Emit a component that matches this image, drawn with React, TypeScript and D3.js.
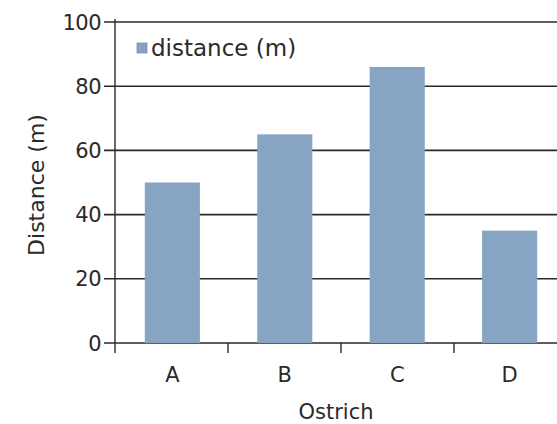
import * as d3 from "d3"

const categories = ["A", "B", "C", "D"]
const distances = [50, 65, 86, 35]
const yTicks = [0, 20, 40, 60, 80, 100]
const seriesName = "distance (m)"

const W = 557
const H = 424
const left = 115
const bandW = 113
const top = 22
const bottom = 343

export default function App() {
  const x = d3
    .scaleBand<string>()
    .domain(categories)
    .range([left, left + bandW * categories.length])
    .paddingInner(0.51)
    .paddingOuter(0.265)
  const y = d3.scaleLinear().domain([0, 100]).range([bottom, top])
  const font = "'DejaVu Sans', sans-serif"
  const ink = "#2a2a2a"

  const boundaries = categories.slice(1).map((_, i) => left + bandW * (i + 1))

  return (
    <div style={{ position: "fixed", left: 0, top: 0 }}>
      <svg width={W} height={H} style={{ display: "block", background: "#fff" }}>
        {/* gridlines */}
        {yTicks.map((t) => (
          <line
            key={t}
            x1={104}
            x2={W}
            y1={y(t)}
            y2={y(t)}
            stroke={ink}
            strokeWidth={1.6}
          />
        ))}
        {/* bars */}
        {categories.map((c, i) => (
          <rect
            key={c}
            x={x(c)}
            y={y(distances[i])}
            width={x.bandwidth()}
            height={y(0) - y(distances[i])}
            fill="#87a4c3"
          />
        ))}
        {/* y axis */}
        <line x1={left} x2={left} y1={top - 3} y2={bottom + 10} stroke={ink} strokeWidth={1.4} />
        {boundaries.map((b) => (
          <line key={b} x1={b} x2={b} y1={bottom} y2={bottom + 10} stroke={ink} strokeWidth={1.4} />
        ))}
        {yTicks.map((t) => (
          <text
            key={t}
            x={101}
            y={y(t)}
            dy="0.36em"
            textAnchor="end"
            fontFamily={font}
            fontSize={21}
            fill={ink}
            letterSpacing={-0.5}
          >
            {t}
          </text>
        ))}
        {categories.map((c) => (
          <text
            key={c}
            x={(x(c) ?? 0) + x.bandwidth() / 2}
            y={382}
            textAnchor="middle"
            fontFamily={font}
            fontSize={21}
            fill={ink}
          >
            {c}
          </text>
        ))}
        <text
          transform={`translate(44, ${185}) rotate(-90)`}
          textAnchor="middle"
          fontFamily={font}
          fontSize={22}
          fill={ink}
        >
          Distance (m)
        </text>
        <text x={336} y={419} textAnchor="middle" fontFamily={font} fontSize={21} fill={ink}>
          Ostrich
        </text>
        {/* legend */}
        <rect x={137} y={43} width={10} height={10} fill="#8aa0c4" stroke="#7a90b4" strokeWidth={0.8} />
        <text x={151} y={56} fontFamily={font} fontSize={23} fill={ink}>
          {seriesName}
        </text>
      </svg>
    </div>
  )
}
